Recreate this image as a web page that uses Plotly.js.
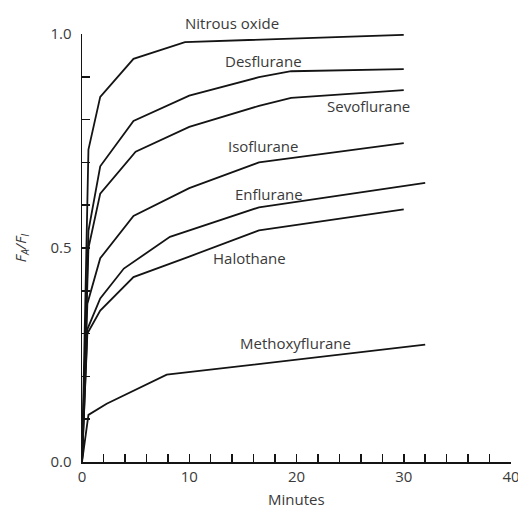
<!DOCTYPE html>
<html>
<head>
<meta charset="utf-8">
<script src="https://cdn.plot.ly/plotly-3.0.1.min.js"></script>
<style>html,body{margin:0;padding:0;background:#fff;}#chart{width:518px;height:508px;}</style>
</head>
<body>
<div id="chart"></div>
<script>
// Uptake curves: FA/FI versus minutes
const nitrousT = [0, 0.6, 1.7, 4.8, 9.6, 30];
const nitrousY = [0, 0.73, 0.853, 0.942, 0.981, 0.998];

const desT = [0, 0.6, 1.7, 4.8, 10, 16.5, 19.5, 30];
const desY = [0, 0.54, 0.691, 0.797, 0.856, 0.899, 0.913, 0.918];

const sevoT = [0, 0.6, 1.7, 5.0, 10, 16.5, 19.5, 30];
const sevoY = [0, 0.50, 0.627, 0.725, 0.783, 0.832, 0.851, 0.869];

const isoT = [0, 0.5, 1.7, 4.8, 10, 16.5, 30];
const isoY = [0, 0.37, 0.476, 0.575, 0.64, 0.70, 0.745];

const enfT = [0, 0.5, 1.7, 3.9, 8.2, 16.5, 32];
const enfY = [0, 0.31, 0.382, 0.452, 0.526, 0.595, 0.652];

const halT = [0, 0.5, 1.7, 4.8, 10, 16.5, 30];
const halY = [0, 0.30, 0.354, 0.432, 0.48, 0.541, 0.59];

const methT = [0, 0.6, 2.3, 7.9, 32];
const methY = [0, 0.11, 0.136, 0.204, 0.274];

const seriesNames = ["Nitrous oxide", "Desflurane", "Sevoflurane", "Isoflurane", "Enflurane", "Halothane", "Methoxyflurane"];

const xTickVals = [0, 2, 4, 6, 8, 10, 12, 14, 16, 18, 20, 22, 24, 26, 28, 30, 32, 34, 36, 38, 40];
const xTickText = ["0", "", "", "", "", "10", "", "", "", "", "20", "", "", "", "", "30", "", "", "", "", "40"];
const yTickVals = [0, 0.1, 0.2, 0.3, 0.4, 0.5, 0.6, 0.7, 0.8, 0.9, 1.0];
const yTickText = ["0.0", "", "", "", "", "0.5", "", "", "", "", "1.0"];
const xTitle = "Minutes";

const seriesT = [nitrousT, desT, sevoT, isoT, enfT, halT, methT];
const seriesY = [nitrousY, desY, sevoY, isoY, enfY, halY, methY];

const LINE = "#141414";
const TEXT = "#3a3a3a";
const FONT = "Open Sans, sans-serif";

const traces = seriesNames.map((n, i) => ({
  type: "scatter", mode: "lines", name: n,
  x: seriesT[i], y: seriesY[i],
  line: {color: LINE, width: 1.8},
  hoverinfo: "skip"
}));

// label placement (layout only); paper y used so labels above the axis top still show
const labelPos = [
  [14.0, 1.026], [16.9, 0.937], [26.7, 0.832], [16.9, 0.738],
  [17.4, 0.627], [15.6, 0.477], [19.9, 0.278]
];
const annotations = seriesNames.map((n, i) => ({
  x: labelPos[i][0], y: labelPos[i][1], xref: "x", yref: "paper",
  text: n, showarrow: false, xanchor: "center", yanchor: "middle",
  font: {family: FONT, size: 15, color: TEXT}
}));
// x-axis title placed low, as in the reference (it sits at the very bottom edge)
annotations.push({
  x: 0.5, y: -0.087, xref: "paper", yref: "paper",
  text: xTitle, showarrow: false, xanchor: "center", yanchor: "middle",
  font: {family: FONT, size: 15, color: TEXT}
});

const axisCommon = {
  showgrid: false, zeroline: false, showline: true,
  linecolor: LINE, linewidth: 1.5,
  ticks: "inside", ticklen: 8, tickwidth: 1.5, tickcolor: LINE,
  tickmode: "array",
  ticklabeloverflow: "allow",
  tickfont: {family: FONT, size: 15, color: TEXT},
  fixedrange: true
};

const layout = {
  width: 518, height: 508,
  margin: {l: 82, r: 7, t: 34, b: 46, pad: 0},
  paper_bgcolor: "#fff", plot_bgcolor: "#fff",
  showlegend: false,
  xaxis: Object.assign({}, axisCommon, {
    range: [0, 40],
    tickvals: xTickVals, ticktext: xTickText,
    ticklabelstandoff: 0
  }),
  yaxis: Object.assign({}, axisCommon, {
    range: [0, 1.0],
    tickvals: yTickVals, ticktext: yTickText,
    ticklabelstandoff: 6,
    title: {text: "<i>F</i><sub><i>A</i></sub><i>/F</i><sub><i>I</i></sub>", font: {family: FONT, size: 15, color: TEXT}, standoff: 20}
  }),
  annotations: annotations
};

Plotly.newPlot("chart", traces, layout, {displayModeBar: false, staticPlot: true});
</script>
</body>
</html>
